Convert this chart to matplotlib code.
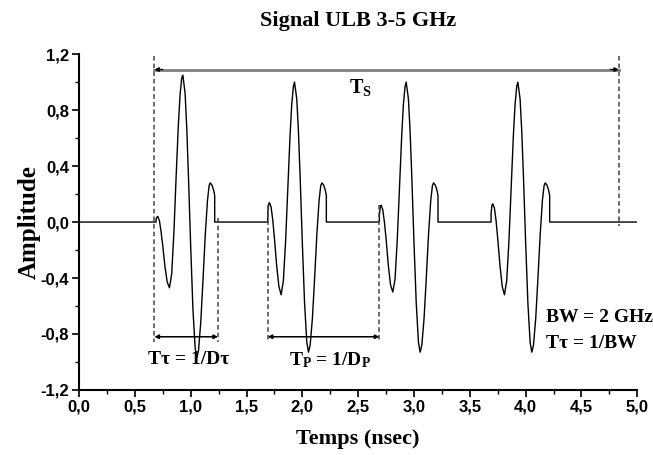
import matplotlib
matplotlib.use("Agg")
import matplotlib.pyplot as plt
from matplotlib.ticker import MultipleLocator, FuncFormatter

# Pulse start times (ns)
pulseStarts = [0.69, 1.69, 2.69, 3.69]

# Time offsets inside one pulse (ns)
pulseOffsets = [0.000, 0.000, 0.008, 0.015, 0.030, 0.045, 0.060, 0.080, 0.100, 0.120,
                0.140, 0.160, 0.180, 0.200, 0.215, 0.230, 0.240, 0.260, 0.275, 0.290,
                0.310, 0.330, 0.350, 0.365, 0.380, 0.400, 0.420, 0.440, 0.460, 0.475,
                0.485, 0.500, 0.515, 0.525, 0.525]

# Amplitudes of each pulse at those offsets
pulse1 = [0.00, 0.02, 0.035, 0.04, 0.01, -0.07, -0.17, -0.32, -0.43, -0.47,
          -0.37, -0.07, 0.33, 0.70, 0.91, 1.03, 1.05, 0.92, 0.67, 0.33,
          -0.17, -0.62, -0.90, -0.97, -0.92, -0.72, -0.42, -0.10, 0.15, 0.26,
          0.28, 0.265, 0.23, 0.19, 0.00]
pulse2 = [0.00, 0.06, 0.125, 0.14, 0.107, 0.016, -0.116, -0.31, -0.46, -0.52,
          -0.42, -0.14, 0.24, 0.62, 0.84, 0.97, 1.00, 0.88, 0.65, 0.33,
          -0.15, -0.58, -0.86, -0.93, -0.88, -0.69, -0.40, -0.09, 0.155, 0.26,
          0.28, 0.265, 0.23, 0.19, 0.00]
pulse3 = [0.00, 0.05, 0.11, 0.12, 0.09, 0.00, -0.12, -0.31, -0.45, -0.50,
          -0.41, -0.13, 0.24, 0.62, 0.84, 0.97, 1.00, 0.88, 0.65, 0.33,
          -0.15, -0.58, -0.86, -0.93, -0.88, -0.69, -0.40, -0.09, 0.155, 0.26,
          0.28, 0.265, 0.23, 0.19, 0.00]
pulse4 = [0.00, 0.06, 0.12, 0.13, 0.10, 0.01, -0.12, -0.31, -0.46, -0.52,
          -0.42, -0.14, 0.24, 0.62, 0.84, 0.97, 1.00, 0.88, 0.65, 0.33,
          -0.15, -0.58, -0.86, -0.93, -0.88, -0.69, -0.40, -0.09, 0.155, 0.26,
          0.28, 0.265, 0.23, 0.19, 0.00]

timeRange = [0.0, 5.0]
tsEnd = 4.835


def main():
    plt.rcParams["mathtext.fontset"] = "custom"
    plt.rcParams["mathtext.rm"] = "Liberation Serif:bold"
    plt.rcParams["mathtext.it"] = "Liberation Serif:bold"
    plt.rcParams["mathtext.bf"] = "Liberation Serif:bold"

    # Build the full signal: zero line between pulses
    t = [timeRange[0]]
    y = [0.0]
    for start, amps in zip(pulseStarts, [pulse1, pulse2, pulse3, pulse4]):
        for off, a in zip(pulseOffsets, amps):
            t.append(start + off)
            y.append(a)
    t.append(timeRange[1])
    y.append(0.0)

    fig = plt.figure(figsize=(6.53, 4.55), dpi=100)
    ax = fig.add_axes([0.121, 0.143, 0.855, 0.738])
    ax.plot(t, y, color="black", linewidth=1.0)

    ax.set_xlim(0, 5)
    ax.set_ylim(-1.2, 1.2)
    ax.spines["top"].set_visible(False)
    ax.spines["right"].set_visible(False)
    for s in ["left", "bottom"]:
        ax.spines[s].set_linewidth(1.5)
    ax.xaxis.set_major_locator(MultipleLocator(0.5))
    ax.xaxis.set_minor_locator(MultipleLocator(0.25))
    ax.yaxis.set_major_locator(MultipleLocator(0.4))
    ax.yaxis.set_minor_locator(MultipleLocator(0.2))
    fmt = FuncFormatter(lambda v, p: f"{v:.1f}".replace(".", ","))
    ax.xaxis.set_major_formatter(fmt)
    ax.yaxis.set_major_formatter(fmt)
    ax.tick_params(which="major", direction="out", length=5, width=1.2, pad=2)
    ax.tick_params(which="minor", direction="out", length=3, width=1.0)
    for lbl in ax.get_xticklabels() + ax.get_yticklabels():
        lbl.set_fontfamily("Liberation Sans")
        lbl.set_fontweight("bold")
        lbl.set_fontsize(12)

    serif = dict(family="Liberation Serif", weight="bold")
    ax.set_title("Signal ULB 3-5 GHz", fontsize=16, pad=20, **serif)
    ax.set_xlabel("Temps (nsec)", fontsize=16, labelpad=10, **serif)
    ax.set_ylabel("Amplitude", fontsize=18, labelpad=0, **serif)

    # Dashed guide lines
    dash = dict(color="#444444", linestyle=(0, (3, 2)), linewidth=1.1)
    ax.plot([0.675, 0.675], [1.19, -0.86], **dash)
    ax.plot([1.245, 1.245], [0.03, -0.86], **dash)
    ax.plot([1.69, 1.69], [0.12, -0.86], **dash)
    ax.plot([2.69, 2.69], [0.12, -0.86], **dash)
    ax.plot([tsEnd, tsEnd], [1.19, -0.03], **dash)

    # T_S arrow: grey shaft with small dark heads
    ax.plot([0.675, tsEnd], [1.09, 1.09], color="#808080", linewidth=2)
    ax.annotate("", xy=(0.675, 1.09), xytext=(0.75, 1.09),
                arrowprops=dict(arrowstyle="-|>", color="black", lw=1,
                                mutation_scale=6, shrinkA=0, shrinkB=0))
    ax.annotate("", xy=(tsEnd, 1.09), xytext=(tsEnd - 0.075, 1.09),
                arrowprops=dict(arrowstyle="-|>", color="black", lw=1,
                                mutation_scale=6, shrinkA=0, shrinkB=0))
    for x0, x1 in [(0.675, 1.245), (1.69, 2.69)]:
        ax.annotate("", xy=(x0, -0.82), xytext=(x1, -0.82),
                    arrowprops=dict(arrowstyle="<|-|>", color="black", lw=1.1,
                                    mutation_scale=6, shrinkA=0, shrinkB=0))

    ax.text(2.52, 0.96, r"T$_\mathrm{S}$", fontsize=14.5, ha="center", va="center", **serif)
    ax.text(0.985, -0.985, "T\u03c4 = 1/D\u03c4", fontsize=14, ha="center", va="center", **serif)
    ax.text(2.25, -0.985, r"T$_\mathrm{P}$ = 1/D$_\mathrm{P}$", fontsize=14, ha="center", va="center", **serif)
    ax.text(4.18, -0.68, "BW = 2 GHz", fontsize=14, ha="left", va="center", **serif)
    ax.text(4.18, -0.865, "T\u03c4 = 1/BW", fontsize=14, ha="left", va="center", **serif)

    fig.savefig("out.png", dpi=100)


if __name__ == "__main__":
    main()
